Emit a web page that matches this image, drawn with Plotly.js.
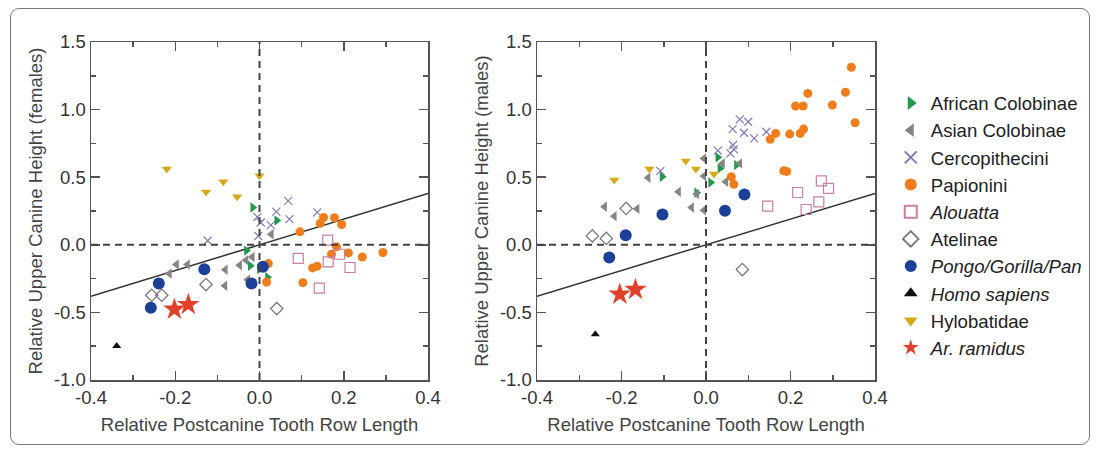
<!DOCTYPE html>
<html>
<head>
<meta charset="utf-8">
<script src="https://cdn.plot.ly/plotly-3.0.1.min.js"></script>
<style>
html,body{margin:0;padding:0;background:#fff;}
#wrap{position:relative;width:1097px;height:449px;}
#chart{position:absolute;left:0;top:0;width:1097px;height:449px;}
#frame{position:absolute;left:10px;top:8px;width:1078px;height:435px;border:1.5px solid #777;border-radius:9px;pointer-events:none;}
</style>
</head>
<body>
<div id="wrap"><div id="chart"></div><div id="frame"></div></div>
<script>
// ---------- Females (left panel) ----------
const afrColF_x = [-0.016, 0.041, -0.031, -0.022, 0.0, 0.019];
const afrColF_y = [0.276, 0.18, -0.043, -0.155, -0.18, -0.24];
const asiColF_x = [-0.197, -0.171, -0.214, -0.081, -0.082, -0.047, -0.032, -0.017, -0.028, 0.028];
const asiColF_y = [-0.146, -0.146, -0.213, -0.185, -0.303, -0.151, -0.114, -0.09, -0.258, 0.078];
const cercF_x = [-0.123, -0.005, 0.003, -0.003, 0.027, 0.04, 0.068, 0.071, 0.137];
const cercF_y = [0.03, 0.205, 0.165, 0.065, 0.145, 0.245, 0.325, 0.19, 0.24];
const papF_x = [0.096, 0.152, 0.178, 0.195, 0.144, 0.183, 0.171, 0.211, 0.244, 0.293, 0.137, 0.126, 0.103, 0.021, 0.017];
const papF_y = [0.096, 0.202, 0.2, 0.15, 0.158, -0.015, -0.07, -0.06, -0.09, -0.057, -0.158, -0.171, -0.28, -0.139, -0.275];
const alouF_x = [0.162, 0.092, 0.163, 0.19, 0.215, 0.142];
const alouF_y = [0.034, -0.1, -0.127, -0.07, -0.168, -0.32];
const atelF_x = [-0.256, -0.232, -0.127, 0.041];
const atelF_y = [-0.373, -0.373, -0.294, -0.472];
const pongoF_x = [-0.239, -0.258, -0.131, -0.019, 0.008];
const pongoF_y = [-0.287, -0.465, -0.181, -0.287, -0.163];
const homoF_x = [-0.339];
const homoF_y = [-0.749];
const hyloF_x = [-0.22, -0.127, -0.086, -0.053, 0.0];
const hyloF_y = [0.56, 0.39, 0.466, 0.355, 0.51];
const ardiF_x = [-0.202, -0.169];
const ardiF_y = [-0.477, -0.442];

// ---------- Males (right panel) ----------
const afrColM_x = [0.028, 0.033, 0.072, -0.104, 0.011, -0.022];
const afrColM_y = [0.647, 0.565, 0.59, 0.503, 0.461, 0.385];
const asiColM_x = [-0.005, 0.039, 0.08, -0.005, -0.137, 0.047, -0.065, -0.022, -0.034, -0.005, -0.24, -0.163, -0.217];
const asiColM_y = [0.639, 0.602, 0.602, 0.508, 0.496, 0.466, 0.392, 0.375, 0.276, 0.256, 0.281, 0.266, 0.212];
const cercM_x = [0.08, 0.1, 0.063, 0.09, 0.114, 0.143, 0.064, 0.066, 0.058, 0.028, -0.108];
const cercM_y = [0.928, 0.91, 0.856, 0.829, 0.787, 0.836, 0.738, 0.706, 0.676, 0.696, 0.547];
const papM_x = [0.344, 0.33, 0.241, 0.212, 0.23, 0.299, 0.353, 0.152, 0.165, 0.198, 0.223, 0.231, 0.184, 0.191, 0.06, 0.066];
const papM_y = [1.313, 1.128, 1.12, 1.027, 1.027, 1.034, 0.903, 0.78, 0.824, 0.819, 0.824, 0.856, 0.547, 0.543, 0.503, 0.447];
const alouM_x = [0.273, 0.29, 0.217, 0.146, 0.237, 0.267];
const alouM_y = [0.473, 0.417, 0.387, 0.286, 0.261, 0.318];
const atelM_x = [-0.189, -0.269, -0.236, 0.086];
const atelM_y = [0.269, 0.066, 0.047, -0.183];
const pongoM_x = [0.091, 0.045, -0.103, -0.19, -0.229];
const pongoM_y = [0.372, 0.251, 0.224, 0.071, -0.094];
const homoM_x = [-0.262];
const homoM_y = [-0.662];
const hyloM_x = [-0.217, -0.134, -0.048, -0.024, 0.019];
const hyloM_y = [0.479, 0.56, 0.619, 0.56, 0.523];
const ardiM_x = [-0.204, -0.167];
const ardiM_y = [-0.366, -0.331];

// reference line (slope through origin) and axis extents
const lineX = [-0.4, 0.4];
const lineSlope = 0.95;

const xTickVals = [-0.4, -0.2, 0.0, 0.2, 0.4];
const xTickText = ['-0.4', '-0.2', '0.0', '0.2', '0.4'];
const yTickVals = [-1.0, -0.5, 0.0, 0.5, 1.0, 1.5];
const yTickText = ['-1.0', '-0.5', '0.0', '0.5', '1.0', '1.5'];

const FONT = 'Liberation Sans, Arial, sans-serif';

const species = [
  {name: 'African Colobinae', f: [afrColF_x, afrColF_y], m: [afrColM_x, afrColM_y],
   marker: {symbol: 'triangle-right', size: 9, color: '#22994a'}},
  {name: 'Asian Colobinae', f: [asiColF_x, asiColF_y], m: [asiColM_x, asiColM_y],
   marker: {symbol: 'triangle-left', size: 9, color: '#858585'}},
  {name: 'Cercopithecini', f: [cercF_x, cercF_y], m: [cercM_x, cercM_y],
   marker: {symbol: 'x-thin-open', size: 8, color: '#8478b8', line: {width: 1.2, color: '#8478b8'}}},
  {name: 'Papionini', f: [papF_x, papF_y], m: [papM_x, papM_y],
   marker: {symbol: 'circle', size: 9, color: '#f07d1c'}},
  {name: '<i>Alouatta</i>', f: [alouF_x, alouF_y], m: [alouM_x, alouM_y],
   marker: {symbol: 'square-open', size: 10, color: '#c87ea6', line: {width: 1.2, color: '#c87ea6'}}},
  {name: 'Atelinae', f: [atelF_x, atelF_y], m: [atelM_x, atelM_y],
   marker: {symbol: 'diamond-open', size: 9.5, color: '#7a7a7a', line: {width: 1.3, color: '#7a7a7a'}}},
  {name: '<i>Pongo/Gorilla/Pan</i>', f: [pongoF_x, pongoF_y], m: [pongoM_x, pongoM_y],
   marker: {symbol: 'circle', size: 12, color: '#1c3f98'}},
  {name: '<i>Homo sapiens</i>', f: [homoF_x, homoF_y], m: [homoM_x, homoM_y],
   marker: {symbol: 'triangle-up', size: 8, color: '#111111'}},
  {name: 'Hylobatidae', f: [hyloF_x, hyloF_y], m: [hyloM_x, hyloM_y],
   marker: {symbol: 'triangle-down', size: 9, color: '#d6a91c'}},
  {name: '<i>Ar. ramidus</i>', f: [ardiF_x, ardiF_y], m: [ardiM_x, ardiM_y],
   marker: {symbol: 'star', size: 17, color: '#e2402a'}}
];

const traces = [];
[['x', 'y'], ['x2', 'y2']].forEach(function (ax) {
  traces.push({
    x: lineX, y: lineX.map(function (v) { return v * lineSlope; }),
    xaxis: ax[0], yaxis: ax[1], mode: 'lines', showlegend: false, hoverinfo: 'skip',
    line: {color: '#333333', width: 1.5}
  });
});
species.forEach(function (s) {
  traces.push({x: s.f[0], y: s.f[1], xaxis: 'x', yaxis: 'y', type: 'scatter', mode: 'markers',
    name: s.name, legendgroup: s.name, marker: s.marker, showlegend: true});
  traces.push({x: s.m[0], y: s.m[1], xaxis: 'x2', yaxis: 'y2', type: 'scatter', mode: 'markers',
    name: s.name, legendgroup: s.name, marker: s.marker, showlegend: false});
});

const axisCommon = {
  showline: true, linecolor: '#5a5252', linewidth: 1.5, mirror: 'allticks',
  ticks: 'inside', ticklen: 9, tickwidth: 1.5, tickcolor: '#5a5252',
  showgrid: false, zeroline: false,
  tickfont: {family: FONT, size: 18.5, color: '#333'}
};
function xAxis(domain, anchor) {
  return Object.assign({}, axisCommon, {
    domain: domain, anchor: anchor, range: [-0.4, 0.4],
    tickmode: 'array', tickvals: xTickVals, ticktext: xTickText,
    minor: {dtick: 0.1, tick0: 0, ticks: 'inside', ticklen: 5, tickwidth: 1.5, tickcolor: '#5a5252'},
    title: {text: 'Relative Postcanine Tooth Row Length', standoff: 11,
      font: {family: FONT, size: 18.5, color: '#444'}}
  });
}
function yAxis(domain, anchor, label) {
  return Object.assign({}, axisCommon, {
    domain: domain, anchor: anchor, range: [-1.0, 1.5],
    tickmode: 'array', tickvals: yTickVals, ticktext: yTickText,
    minor: {dtick: 0.25, tick0: 0, ticks: 'inside', ticklen: 5, tickwidth: 1.5, tickcolor: '#5a5252'},
    title: {text: label, standoff: 6,
      font: {family: FONT, size: 18.5, color: '#444'}}
  });
}

const yDom = [69 / 449, 407 / 449];
const layout = {
  width: 1097, height: 449,
  margin: {l: 0, r: 0, t: 0, b: 0},
  paper_bgcolor: '#ffffff', plot_bgcolor: '#ffffff',
  font: {family: FONT, color: '#333'},
  xaxis: xAxis([91 / 1097, 428 / 1097], 'y'),
  yaxis: yAxis(yDom, 'x', 'Relative Upper Canine Height (females)'),
  xaxis2: xAxis([537 / 1097, 875 / 1097], 'y2'),
  yaxis2: yAxis(yDom, 'x2', 'Relative Upper Canine Height (males)'),
  showlegend: true,
  legend: {x: 0.812, y: 0.812, xanchor: 'left', yanchor: 'top',
    font: {family: FONT, size: 18.6, color: '#222'}, itemsizing: 'constant',
    bgcolor: 'rgba(0,0,0,0)', tracegroupgap: 0, itemclick: false},
  shapes: [
    {type: 'line', xref: 'x', yref: 'y domain', x0: 0, x1: 0, y0: 0, y1: 1, line: {color: '#444', width: 2, dash: '7px,5px'}},
    {type: 'line', xref: 'x domain', yref: 'y', x0: 0, x1: 1, y0: 0, y1: 0, line: {color: '#444', width: 2, dash: '7px,5px'}},
    {type: 'line', xref: 'x2', yref: 'y2 domain', x0: 0, x1: 0, y0: 0, y1: 1, line: {color: '#444', width: 2, dash: '7px,5px'}},
    {type: 'line', xref: 'x2 domain', yref: 'y2', x0: 0, x1: 1, y0: 0, y1: 0, line: {color: '#444', width: 2, dash: '7px,5px'}}
  ]
};

Plotly.newPlot('chart', traces, layout, {displayModeBar: false, staticPlot: true});
</script>
</body>
</html>
